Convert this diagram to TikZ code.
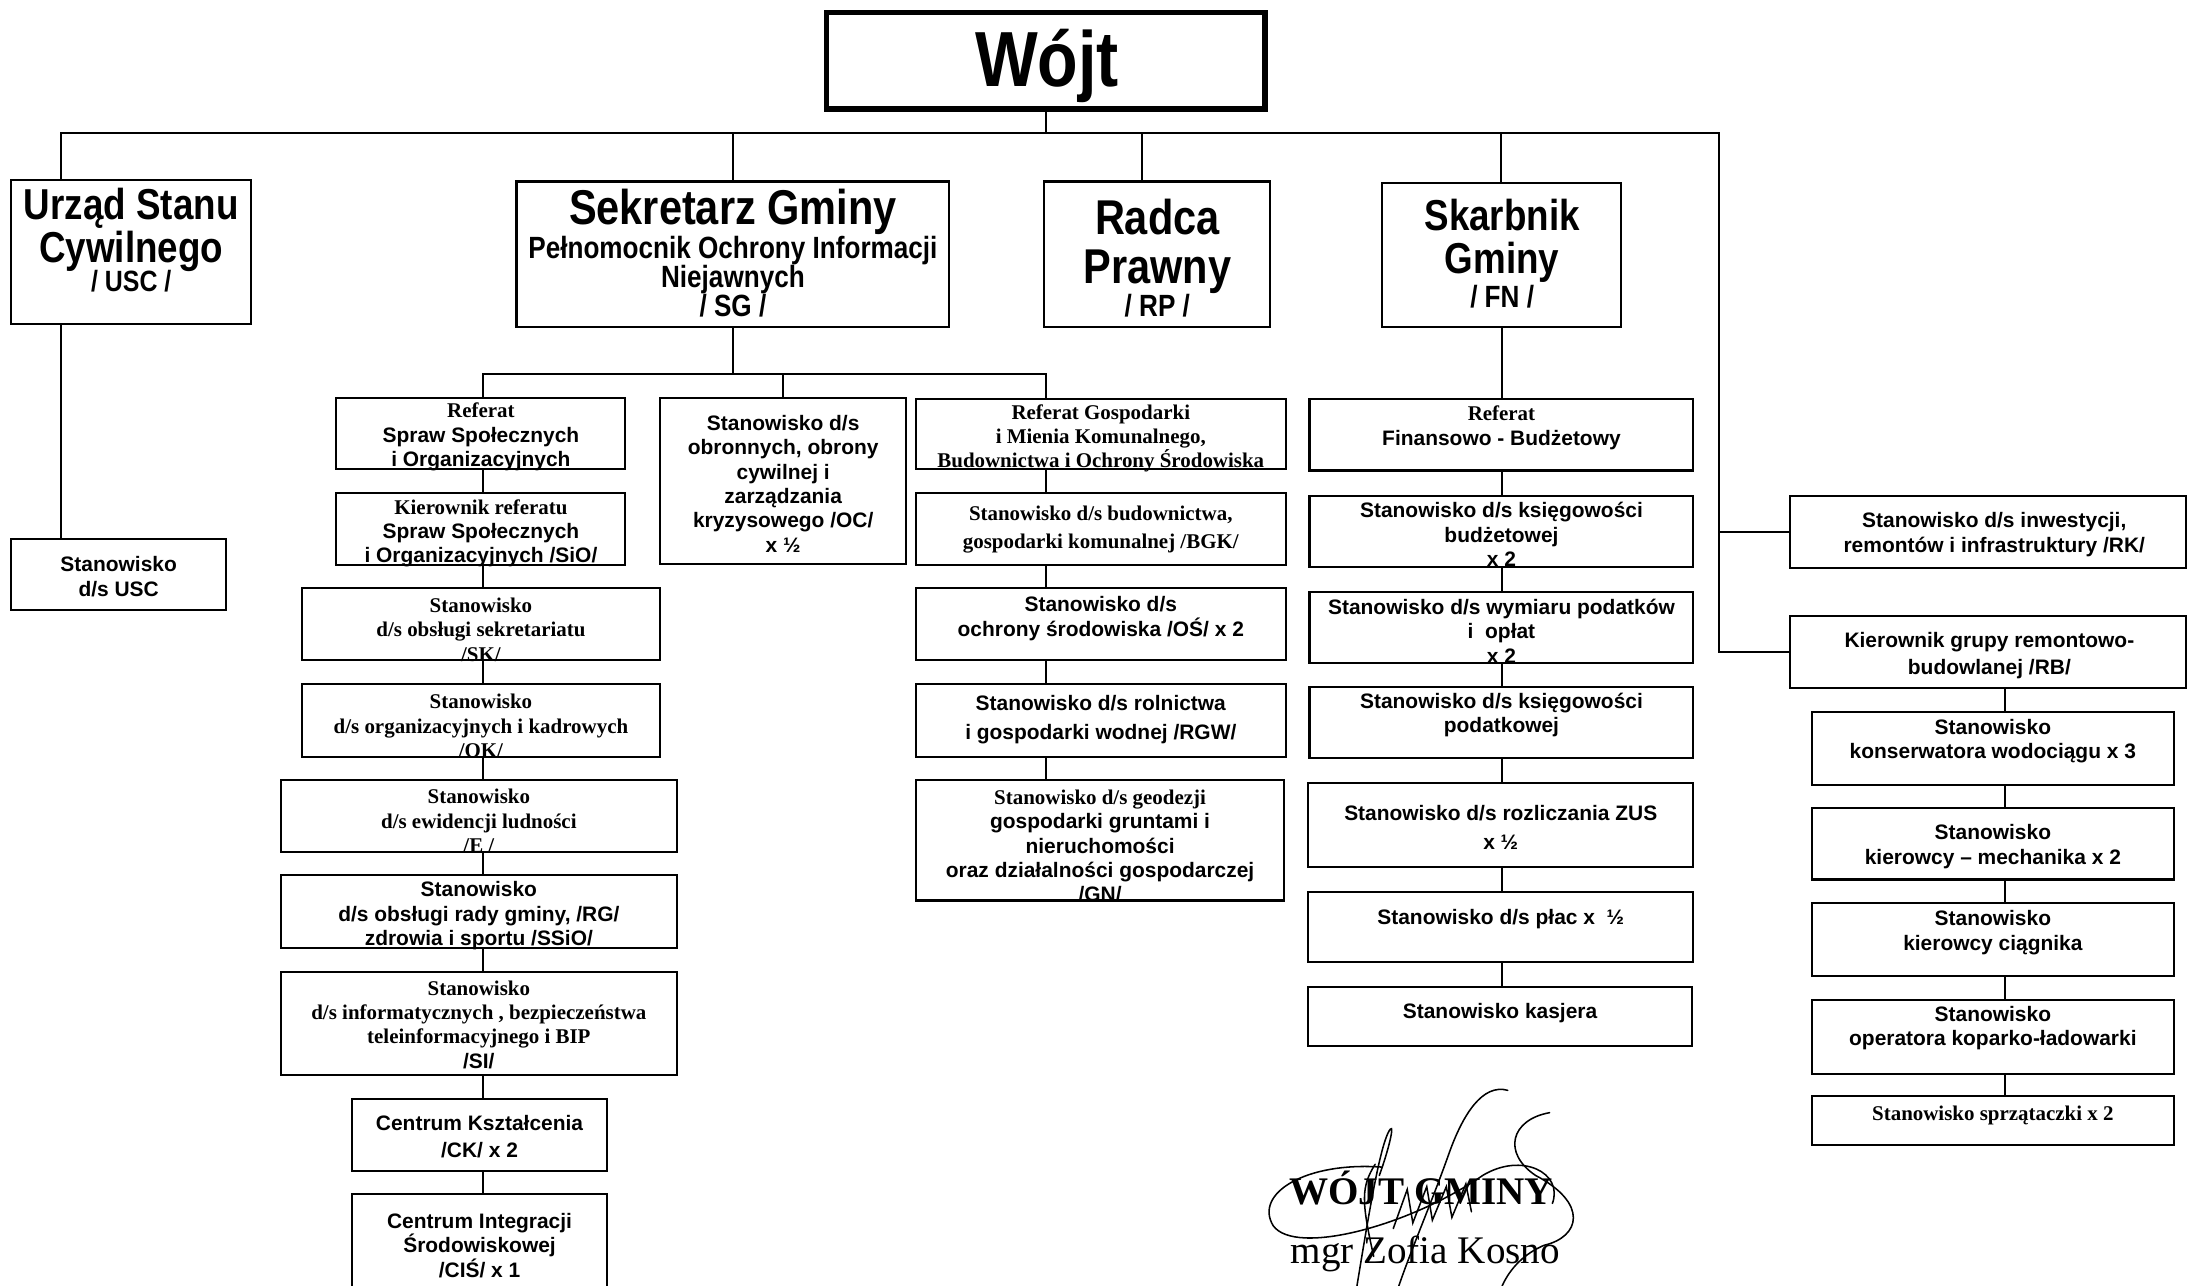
\documentclass[tikz,border=0pt]{standalone}
\usepackage{fontspec}
\setmainfont{Liberation Serif}
\newfontfamily\arfam{Liberation Sans}
\newfontfamily\arnfam[FakeStretch=0.85]{Liberation Sans}
\newcommand\SansB{\arfam\bfseries}
\newcommand\NarB{\arnfam\bfseries}
\newcommand\SerB{\rmfamily\bfseries}
\usetikzlibrary{fit,calc}
\tikzset{
  box/.style={draw, line width=1.5pt, inner sep=0pt, rectangle},
  conn/.style={line width=1.4pt},
  tx/.style={align=center, inner sep=0pt, yshift=-2pt, font=\SansB\fontsize{15}{17.5}\selectfont},
  ts/.style={align=center, inner sep=0pt, yshift=-2pt, font=\SerB\fontsize{15}{17.5}\selectfont},
  hd/.style={anchor=base, inner sep=0pt, font=\NarB\fontsize{#1}{#1}\selectfont},
  hd/.default=31,
  sig/.style={line width=1.1pt, line cap=round},
}
\newcommand\bx[5]{\node[box, fit={(#2,#3) (#4,#5)}] (#1) {};}
\begin{document}
\begin{tikzpicture}[x=1pt,y=-1pt]
\fill[white] (0,0) rectangle (1568,921);
\useasboundingbox (0,0) rectangle (1568,921);

% ---- boxes ----
\node[box, line width=4pt, fit={(592,9) (906,78)}] (wojt) {};
\bx{usc}{8}{129}{180}{232}
\bx{sg}{370}{130}{680}{234}
\bx{rp}{748}{130}{910}{234}
\bx{fn}{990}{131}{1161}{234}
\bx{sds}{8}{386}{162}{437}
\bx{ref1}{241}{285}{448}{336}
\bx{kier}{241}{353}{448}{405}
\bx{sk}{216}{421}{473}{473}
\bx{ok}{216}{490}{473}{542}
\bx{ew}{201}{559}{485}{610}
\bx{rg}{201}{627}{485}{679}
\bx{si}{201}{696}{485}{770}
\bx{ck}{252}{787}{435}{839}
\bx{cis}{252}{855}{435}{940}
\bx{oc}{473}{285}{649}{404}
\bx{refg}{656}{286}{921}{336}
\bx{bgk}{656}{353}{921}{405}
\bx{os}{656}{421}{921}{473}
\bx{rgw}{656}{490}{921}{542}
\bx{gn}{656}{559}{920}{645}
\bx{reff}{938}{286}{1213}{337}
\bx{kb}{938}{355}{1213}{406}
\bx{wym}{938}{424}{1213}{475}
\bx{kp}{938}{492}{1213}{543}
\bx{zus}{937}{561}{1213}{621}
\bx{plac}{937}{639}{1213}{689}
\bx{kas}{937}{707}{1212}{749}
\bx{rk}{1282}{355}{1566}{407}
\bx{rb}{1282}{441}{1566}{493}
\bx{kons}{1298}{510}{1557}{562}
\bx{mech}{1298}{579}{1557}{630}
\bx{ciag}{1298}{647}{1557}{699}
\bx{kop}{1298}{716}{1557}{769}
\bx{sprz}{1298}{785}{1557}{820}

% ---- connector coordinates ----
\coordinate (busY) at (0,95);
\coordinate (subY) at (0,268);
\coordinate (rX) at (1231,0);
\coordinate (uX) at (44,0);
\coordinate (rpX) at (818,0);
\coordinate (lX) at (346,0);
\coordinate (mX) at (749,0);
\coordinate (fX) at (1076,0);
\coordinate (rcX) at (1436,0);

\draw[conn] (wojt.south) -- (wojt.south |- busY);
\draw[conn] (usc.north -| uX) -- (uX |- busY) -- (rX |- busY) -- (rX |- rb.west) -- (rb.west);
\draw[conn] (sg.north) -- (sg.north |- busY);
\draw[conn] (rp.north -| rpX) -- (rpX |- busY);
\draw[conn] (fn.north) -- (fn.north |- busY);
\draw[conn] (rk.west) -- (rk.west -| rX);
\draw[conn] (usc.south -| uX) -- (sds.north -| uX);
\draw[conn] (sg.south) -- (sg.south |- subY);
\draw[conn] (ref1.north -| lX) -- (lX |- subY) -- (mX |- subY) -- (refg.north -| mX);
\draw[conn] (oc.north) -- (oc.north |- subY);
\foreach \a/\b in {ref1/kier,kier/sk,sk/ok,ok/ew,ew/rg,rg/si,si/ck,ck/cis}
  \draw[conn] (\a.south -| lX) -- (\b.north -| lX);
\foreach \a/\b in {refg/bgk,bgk/os,os/rgw,rgw/gn}
  \draw[conn] (\a.south -| mX) -- (\b.north -| mX);
\draw[conn] (fn.south -| fX) -- (reff.north -| fX);
\foreach \a/\b in {reff/kb,kb/wym,wym/kp,kp/zus,zus/plac,plac/kas}
  \draw[conn] (\a.south -| fX) -- (\b.north -| fX);
\foreach \a/\b in {rb/kons,kons/mech,mech/ciag,ciag/kop,kop/sprz}
  \draw[conn] (\a.south -| rcX) -- (\b.north -| rcX);

% ---- header texts ----
\node[hd=56] (wojtt) at (750,62) {Wójt};
\node[hd=31] (usct1) at (94,157) {Urząd Stanu};
\node[hd=31] (usct2) at (94,188) {Cywilnego};
\node[hd=21] (usct3) at (94,209) {/ USC /};
\node[hd=35] (sgt1) at (525,161) {Sekretarz Gminy};
\node[hd=22] (sgt2) at (525,185) {Pełnomocnik Ochrony Informacji};
\node[hd=22] (sgt3) at (525,206) {Niejawnych};
\node[hd=22] (sgt4) at (525,227) {/ SG /};
\node[hd=35] (rpt1) at (829,168) {Radca};
\node[hd=35] (rpt2) at (829,203) {Prawny};
\node[hd=22] (rpt3) at (829,227) {/ RP /};
\node[hd=31] (fnt1) at (1076,165) {Skarbnik};
\node[hd=31] (fnt2) at (1076,196) {Gminy};
\node[hd=22] (fnt3) at (1076,220) {/ FN /};

% ---- box texts ----
\node[tx] (sdst) at (85,411) {Stanowisko\\d/s USC};
\node[tx] (ref1t) at (344.5,311) {{\SerB Referat}\\Spraw Społecznych\\i Organizacyjnych};
\node[tx] (kiert) at (344.5,380) {{\SerB Kierownik referatu}\\Spraw Społecznych\\i Organizacyjnych /SiO/};
\node[ts] (skt) at (344.5,449) {Stanowisko\\d/s obsługi sekretariatu\\/SK/};
\node[ts] (okt) at (344.5,518) {Stanowisko\\d/s organizacyjnych i kadrowych\\/OK/};
\node[ts] (ewt) at (343,586) {Stanowisko\\d/s ewidencji ludności\\/E /};
\node[tx] (rgt) at (343,654) {Stanowisko\\d/s obsługi rady gminy, /RG/\\zdrowia i sportu /SSiO/};
\node[ts] (sit) at (343,732) {Stanowisko\\d/s informatycznych , bezpieczeństwa\\teleinformacyjnego i BIP\\{\SansB /SI/}};
\node[tx, font=\SansB\fontsize{15}{19}\selectfont] (ckt) at (343.5,812) {Centrum Kształcenia\\/CK/ x 2};
\node[tx] (cist) at (343.5,890) {Centrum Integracji\\Środowiskowej\\/CIŚ/ x 1};
\node[tx] (oct) at (561,344.5) {Stanowisko d/s\\obronnych, obrony\\cywilnej i\\zarządzania\\kryzysowego /OC/\\x ½};
\node[ts] (refgt) at (788.5,312) {Referat Gospodarki\\i Mienia Komunalnego,\\Budownictwa i Ochrony Środowiska};
\node[ts, font=\SerB\fontsize{15}{20}\selectfont] (bgkt) at (788.5,377) {Stanowisko d/s budownictwa,\\gospodarki komunalnej /BGK/};
\node[tx] (ost) at (788.5,441) {Stanowisko d/s\\ochrony środowiska /OŚ/ x 2};
\node[tx, font=\SansB\fontsize{15}{21}\selectfont] (rgwt) at (788.5,513.5) {Stanowisko d/s rolnictwa\\i gospodarki wodnej /RGW/};
\node[tx] (gnt) at (788,604) {{\SerB Stanowisko d/s geodezji}\\gospodarki gruntami i\\nieruchomości\\oraz działalności gospodarczej\\/GN/};
\node[tx] (reft) at (1075.5,304.5) {{\SerB Referat}\\Finansowo - Budżetowy};
\node[tx] (kbt) at (1075.5,381) {Stanowisko d/s księgowości\\budżetowej\\x 2};
\node[tx] (wymt) at (1075.5,450) {Stanowisko d/s wymiaru podatków\\i~~opłat\\x 2};
\node[tx] (kpt) at (1075.5,510) {Stanowisko d/s księgowości\\podatkowej};
\node[tx, font=\SansB\fontsize{15}{21}\selectfont] (zust) at (1075,590.5) {Stanowisko d/s rozliczania ZUS\\x ½};
\node[tx] (plact) at (1075,656) {Stanowisko d/s płac x~~½};
\node[tx] (kast) at (1074.5,724) {Stanowisko kasjera};
\node[tx] (rkt) at (1428.5,381) {Stanowisko d/s inwestycji,\\remontów i infrastruktury /RK/};
\node[tx, font=\SansB\fontsize{15}{19}\selectfont] (rbt) at (1425,467.5) {Kierownik grupy remontowo-\\budowlanej /RB/};
\node[tx] (konst) at (1427.5,529) {Stanowisko\\konserwatora wodociągu x 3};
\node[tx] (mecht) at (1427.5,604.5) {Stanowisko\\kierowcy – mechanika x 2};
\node[tx] (ciagt) at (1427.5,666) {Stanowisko\\kierowcy ciągnika};
\node[tx] (kopt) at (1427.5,734.5) {Stanowisko\\operatora koparko-ładowarki};
\node[ts] (sprzt) at (1427.5,797) {Stanowisko sprzątaczki x 2};

% ---- signature ----
\node[anchor=base, inner sep=0pt, font=\SerB\fontsize{28}{28}\selectfont] (sigt1) at (1018,863) {WÓJT GMINY};
\node[anchor=base, inner sep=0pt, font=\rmfamily\fontsize{28}{28}\selectfont] (sigt2) at (1021,905) {mgr Zofia Kosno};
\draw[sig] (990,836) .. controls (935,832) and (898,855) .. (912,878)
  .. controls (928,900) and (1010,878) .. (1062,842)
  .. controls (1090,825) and (1120,840) .. (1112,862);
\draw[sig] (1080,781) .. controls (1062,776) and (1048,798) .. (1038,826)
  .. controls (1026,860) and (1012,892) .. (1002,921);
\draw[sig] (1110,797) .. controls (1082,802) and (1076,826) .. (1100,842)
  .. controls (1138,862) and (1132,886) .. (1106,892)
  .. controls (1092,898) and (1082,908) .. (1076,921);
\draw[sig] (988,842) .. controls (996,820) and (1000,800) .. (994,812)
  .. controls (988,826) and (982,860) .. (972,921);
\draw[sig] (985,834) .. controls (975,850) and (975,860) .. (984,900);
\draw[sig] (998,880) -- (1008,852) -- (1012,876) -- (1022,850) -- (1026,874)
  -- (1036,850) -- (1040,872) -- (1050,848) -- (1054,868);
\end{tikzpicture}
\end{document}
